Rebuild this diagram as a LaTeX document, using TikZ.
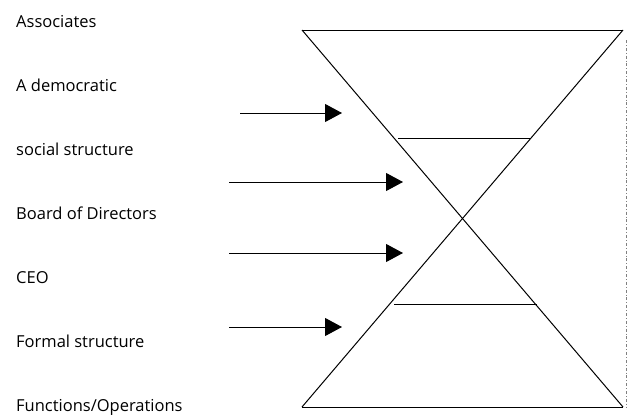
\documentclass[tikz,border=0pt]{standalone}
\usepackage{fontspec}
\setmainfont{Open Sans}
\usetikzlibrary{positioning,arrows.meta}

\tikzset{
  lbl/.style={anchor=west, inner sep=0pt, text height=1.5ex, text depth=.25ex,
              font=\fontsize{16.5}{19}\selectfont},
  glass/.style={line width=1pt},
  push/.style={line width=1pt, -{Triangle[length=17pt,width=18pt]}},
}

\begin{document}
\begin{tikzpicture}[x=1pt,y=-1pt]
            \useasboundingbox (0,0) rectangle (627,415);
            % labels down the left side
            \node[lbl] (assoc) at (16,24) {Associates};
            \node[lbl,below=64pt of assoc.west,anchor=west] (demo) {A democratic};
            \node[lbl,below=64pt of demo.west,anchor=west] (social) {social structure};
            \node[lbl,below=64pt of social.west,anchor=west] (board) {Board of Directors};
            \node[lbl,below=64pt of board.west,anchor=west] (ceo) {CEO};
            \node[lbl,below=64pt of ceo.west,anchor=west] (formal) {Formal structure};
            \node[lbl,below=64pt of formal.west,anchor=west] (func) {Functions/Operations};
            % hourglass
            \coordinate (tl) at (302,30);
            \coordinate (tr) at (623,30);
            \coordinate (bl) at (302,407);
            \coordinate (br) at (623,407);
            \draw[glass] (tl) -- (tr);
            \draw[glass] (bl) -- (br);
            \draw[glass] (tl) -- (br);
            \draw[glass] (tr) -- (bl);
            \coordinate (upa) at (398,138);
            \coordinate (upb) at (530,138);
            \coordinate (loa) at (394,304);
            \coordinate (lob) at (537,304);
            \draw[glass] (upa) -- (upb);
            \draw[glass] (loa) -- (lob);
            \coordinate (dtop) at (626,40);
            \coordinate (dbot) at (626,407);
            \draw[gray,line width=.8pt,dash dot] (dtop) -- (dbot);
            % arrows
            \coordinate (a1) at (240,113);
            \coordinate (b1) at (342,113);
            \coordinate (a2) at (229,182);
            \coordinate (b2) at (403,182);
            \coordinate (a3) at (229,253);
            \coordinate (b3) at (403,253);
            \coordinate (a4) at (229,327);
            \coordinate (b4) at (342,327);
            \draw[push] (a1) -- (b1);
            \draw[push] (a2) -- (b2);
            \draw[push] (a3) -- (b3);
            \draw[push] (a4) -- (b4);
\end{tikzpicture}
\end{document}
